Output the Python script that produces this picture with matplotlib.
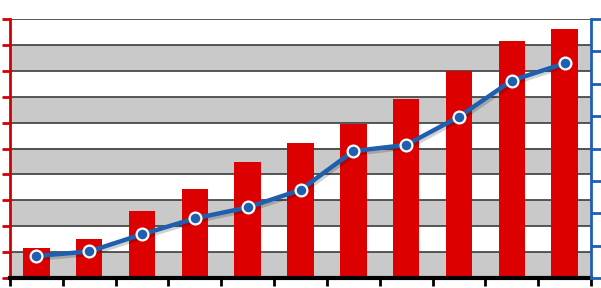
import numpy as np
import matplotlib.pyplot as plt
import matplotlib.patheffects as pe

# valores
categorias = list(range(1, 12))
barras = [1.14, 1.49, 2.6, 3.44, 4.48, 5.22, 5.94, 6.9, 8.0, 9.15, 9.6]
linea = [0.68, 0.82, 1.35, 1.84, 2.18, 2.72, 3.92, 4.11, 4.98, 6.1, 6.63]
bandas_grises = [0, 2, 4, 6, 8]

fig = plt.figure(figsize=(6.01, 2.88), dpi=100)
ax = fig.add_axes([10 / 601, 10 / 288, 581 / 601, 259 / 288])

x = np.arange(len(categorias))
ax.set_xlim(-0.5, len(categorias) - 0.5)
ax.set_ylim(0, 10)

# bandas alternas y lineas de cuadricula
for b in bandas_grises:
    ax.axhspan(b, b + 1, color='#c9c9c9', zorder=0, lw=0)
for g in range(0, 11):
    ax.axhline(g, color='#3c3c3c', lw=1.2, zorder=1)

ax.bar(x, barras, width=0.5, color='#dd0000', zorder=2)

ax.set_yticks(range(0, 11))
ax.set_yticklabels([])
ax.set_xticks(np.arange(len(categorias) + 1) - 0.5)
ax.set_xticklabels([])
ax.tick_params(axis='y', colors='#d40000', length=6, width=2, direction='out')
ax.tick_params(axis='x', colors='black', length=6, width=2, direction='out')
ax.spines['left'].set_color('#d40000')
ax.spines['left'].set_linewidth(2)
ax.spines['bottom'].set_color('black')
ax.spines['bottom'].set_linewidth(3)
ax.spines['top'].set_visible(False)
ax.spines['right'].set_visible(False)

ax2 = ax.twinx()
ax2.set_ylim(0, 8)
ax2.set_yticks(range(0, 9))
ax2.set_yticklabels([])
ax2.tick_params(axis='y', colors='#1f5fb0', length=7, width=2, direction='out')
for s in ['left', 'top', 'bottom']:
    ax2.spines[s].set_visible(False)
ax2.spines['right'].set_color('#1f5fb0')
ax2.spines['right'].set_linewidth(2)

# linea con sombra
ax2.plot(x, linea, color='#1f5fb0', lw=3.2, solid_joinstyle='round',
         solid_capstyle='round', zorder=3,
         path_effects=[pe.SimpleLineShadow(offset=(1.2, -1.8), alpha=0.18), pe.Normal()])
ax2.plot(x, linea, linestyle='none', marker='o', markersize=8.5,
         markerfacecolor='#1f5fb0', markeredgecolor='white',
         markeredgewidth=1.6, zorder=4)

fig.savefig('out.png', dpi=100)
